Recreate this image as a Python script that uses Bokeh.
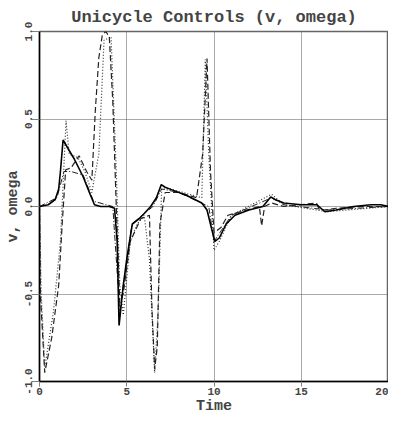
from bokeh.plotting import figure
from bokeh.models import Range1d, FixedTicker
from bokeh.embed import file_html
from bokeh.resources import INLINE

# ---- data ----
t_solid = [0, 0.5, 0.9, 1.1, 1.2, 1.35, 1.7, 2.0, 2.5, 2.9, 3.15, 3.5, 4.0, 4.3, 4.45, 4.56, 4.8, 5.0, 5.32, 5.7, 6.0, 6.37, 6.7, 6.98, 7.2, 7.6, 8.5, 9.3, 9.6, 9.87, 10.05, 10.3, 10.7, 11.2, 12.0, 12.8, 13.05, 13.25, 13.5, 14.0, 15.0, 15.9, 16.35, 17.0, 18.0, 19.0, 19.55, 20.0]
v_solid = [0, 0.01, 0.04, 0.1, 0.2, 0.38, 0.32, 0.27, 0.17, 0.07, 0.01, 0.0, 0.0, -0.01, -0.2, -0.68, -0.45, -0.3, -0.1, -0.07, -0.04, 0.0, 0.05, 0.125, 0.11, 0.095, 0.06, 0.02, -0.02, -0.13, -0.2, -0.18, -0.1, -0.05, -0.02, 0.0, 0.03, 0.055, 0.04, 0.02, 0.01, 0.01, -0.03, -0.02, 0.0, 0.01, 0.01, 0.0]

t_dash = [0, 0.05, 0.3, 0.7, 1.1, 1.3, 1.5, 1.8, 2.27, 2.7, 3.0, 3.2, 3.4, 3.6, 3.8, 4.0, 4.2, 4.4, 4.6, 4.8, 5.2, 5.8, 6.3, 6.45, 6.6, 6.75, 6.9, 7.2, 8.0, 9.0, 9.35, 9.6, 9.8, 10.0, 10.4, 10.8, 12.6, 12.73, 12.9, 13.3, 14.0, 15.87, 16.0, 16.33, 17.0, 18.5, 20.0]
w_dash = [0, -0.5, -0.95, -0.75, -0.45, -0.1, 0.21, 0.22, 0.29, 0.2, 0.15, 0.55, 0.85, 0.98, 1.0, 0.97, 0.6, 0.0, -0.55, -0.5, -0.2, -0.07, -0.05, -0.6, -0.93, -0.8, -0.1, 0.08, 0.08, 0.05, 0.3, 0.845, 0.2, -0.15, -0.12, -0.05, 0.0, -0.11, 0.0, 0.02, 0.0, 0.02, -0.01, -0.02, -0.01, 0.0, 0.0]

t_dot = [0, 0.1, 0.3, 0.8, 1.2, 1.52, 1.7, 2.2, 2.6, 3.0, 3.4, 3.7, 4.1, 4.4, 4.6, 4.8, 5.2, 5.6, 6.0, 6.3, 6.6, 6.8, 7.0, 7.5, 9.3, 9.5, 9.7, 10.0, 10.3, 11.0, 13.3, 14.0, 16.5, 20.0]
w_dot = [0, -0.5, -0.92, -0.6, -0.2, 0.49, 0.3, 0.28, 0.2, 0.08, 0.3, 0.95, 0.97, 0.2, -0.45, -0.62, -0.2, -0.1, -0.05, -0.3, -0.95, -0.6, 0.1, 0.1, 0.05, 0.84, 0.3, -0.25, -0.2, -0.05, 0.07, 0.01, -0.03, 0.0]

t_dashdot = [0, 1.0, 1.4, 1.8, 2.5, 3.1, 4.2, 4.6, 5.3, 6.5, 7.0, 8.0, 9.7, 10.0, 11.0, 13.3, 14.0, 16.5, 20.0]
v_dashdot = [0, 0.05, 0.2, 0.2, 0.18, 0.03, 0.0, -0.6, -0.1, 0.0, 0.1, 0.08, 0.0, -0.2, -0.05, 0.05, 0.01, -0.02, 0.0]

x_ticks = [0, 5, 10, 15, 20]
y_ticks = [-1.0, -0.5, 0.0, 0.5, 1.0]
y_tick_labels = {-1.0: "-1.0", -0.5: "-0.5", 0.0: "0.0", 0.5: "0.5", 1.0: "1.0"}

FONT = "Liberation Mono"

p = figure(width=388, height=417, output_backend="svg", toolbar_location=None,
           x_range=Range1d(0, 20), y_range=Range1d(-1, 1),
           title="Unicycle Controls (v, omega)",
           min_border_left=39, min_border_right=0, min_border_top=31, min_border_bottom=36)

p.title.text_font = FONT
p.title.text_font_size = "17px"
p.title.text_font_style = "bold"
p.title.align = "center"
p.title.standoff = 10

for ax in (p.xaxis[0], p.yaxis[0]):
    ax.axis_line_color = "black"
    ax.axis_line_width = 1.5
    ax.major_tick_line_color = "gray"
    ax.major_tick_in = 0
    ax.minor_tick_line_color = None
    ax.major_label_text_font = FONT
    ax.major_label_text_font_style = "bold"
    ax.major_label_text_font_size = "11px"
    ax.axis_label_text_font = FONT
    ax.axis_label_text_font_style = "bold"
    ax.axis_label_text_font_size = "15px"
    ax.axis_label_standoff = 0

p.xaxis[0].ticker = FixedTicker(ticks=x_ticks)
p.yaxis[0].ticker = FixedTicker(ticks=y_ticks)
p.yaxis[0].major_label_overrides = y_tick_labels
p.yaxis[0].major_label_orientation = "vertical"
p.xaxis[0].major_tick_out = 5
p.yaxis[0].major_tick_out = 8
p.xaxis[0].major_label_standoff = 1
p.yaxis[0].major_label_standoff = 0
p.xaxis.axis_label = "Time"
p.yaxis.axis_label = "v, omega"

p.grid.grid_line_color = "#555555"
p.grid.grid_line_dash = "1 1"
p.grid.grid_line_width = 1
p.outline_line_color = "#666666"
p.outline_line_width = 1.5

p.line(t_dot, w_dot, line_color="#333333", line_width=1.2, line_dash="1 2")
p.line(t_dash, w_dash, line_color="#222222", line_width=1.2, line_dash="6 3")
p.line(t_dashdot, v_dashdot, line_color="#222222", line_width=1.0, line_dash="6 2 1 2")
p.line(t_solid, v_solid, line_color="black", line_width=1.6)

open("out.html", "w").write(file_html(p, INLINE))
